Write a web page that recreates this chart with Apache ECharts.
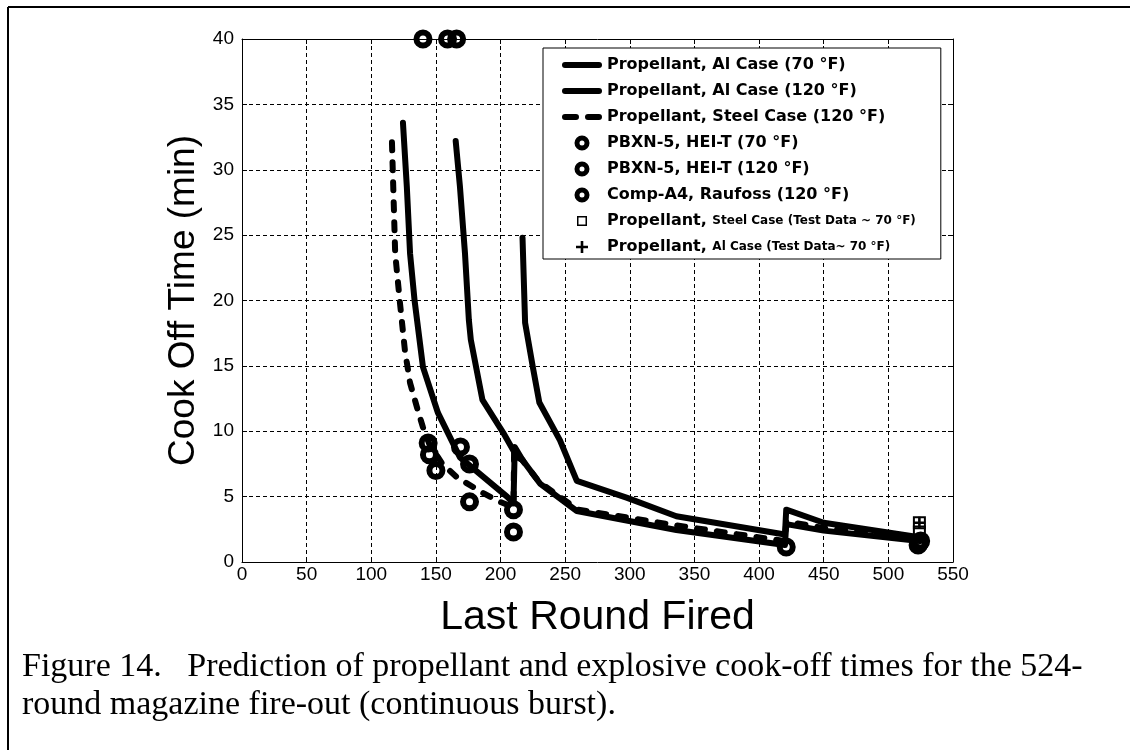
<!DOCTYPE html>
<html>
<head>
<meta charset="utf-8">
<title>Figure 14</title>
<script src="https://cdn.jsdelivr.net/npm/echarts@6/dist/echarts.min.js"></script>
<style>
  html, body { margin: 0; padding: 0; background: #fff; }
  #chart { width: 1130px; height: 750px; }
</style>
</head>
<body>
<div id="chart"></div>
<script>
  // 坐标轴刻度
  var xTicks = [0, 50, 100, 150, 200, 250, 300, 350, 400, 450, 500, 550];
  var yTicks = [0, 5, 10, 15, 20, 25, 30, 35, 40];

  // 曲线
  var alCase70 = [[217, 24.8], [219, 18.3], [225, 14.9], [230, 12.2], [246, 9.3], [259, 6.2],
    [298, 4.9], [336, 3.5], [420, 2.1], [421, 4.0], [450, 3.0], [524, 1.9]];
  var alCase70b = [[165.3, 32.2], [168.6, 28.7], [172.5, 23.6], [175.5, 18.5], [177, 17.0],
    [186, 12.4], [202, 9.9], [213, 8.0], [217, 7.8]];
  var alCase120 = [[124.5, 33.6], [127.5, 28.7], [130, 23.6], [133.5, 20], [140, 14.9],
    [151.6, 11.4], [168.6, 8.0], [205, 5.0], [210, 4.5], [211, 8.8], [217, 7.8], [230.5, 6.0],
    [259, 3.9], [336, 2.45], [420, 1.3], [421, 2.9], [450, 2.4], [524, 1.6]];
  var steelCase120 = [[116, 32.1], [117, 28.7], [118.5, 23.6], [122, 20], [126, 16.2], [130, 13.7],
    [136, 11.6], [140, 10.3], [145, 9.0], [155, 7.5], [166, 6.5], [186, 5.3], [199.5, 4.6],
    [210, 4.2], [210.5, 8.6], [230, 6.1], [260, 4.0], [336, 2.8], [420, 1.6], [421, 3.1],
    [450, 2.6], [524, 1.8]];

  // 散点
  var pbxn70 = [[140, 40], [159, 40], [166, 40], [176, 4.6], [210, 2.3], [421, 1.15]];
  var pbxn120 = [[144, 9.1], [145, 8.2], [150, 7.0], [210, 4.0], [523, 1.3]];
  var compA4 = [[169, 8.8], [176, 7.5], [525, 1.6], [524, 1.45]];
  var testSteel = [[524, 3.0], [524, 2.3]];
  var testAl = [[524, 3.0]];

  var n70 = 'Propellant, Al Case (70 °F)';
  var n120 = 'Propellant, Al Case (120 °F)';
  var nSteel = 'Propellant, Steel Case (120 °F)';
  var nP70 = 'PBXN-5, HEI-T (70 °F)';
  var nP120 = 'PBXN-5, HEI-T (120 °F)';
  var nComp = 'Comp-A4, Raufoss (120 °F)';
  var nTestSteel = 'Propellant, Steel Case (Test Data ~ 70 °F)';
  var nTestAl = 'Propellant, Al Case (Test Data~ 70 °F)';

  var ringPath = 'path://M0,-10 A10,10 0 1,1 0,10 A10,10 0 1,1 0,-10 Z M0,-3.7 A3.7,3.7 0 1,0 0,3.7 A3.7,3.7 0 1,0 0,-3.7 Z';
  var ringIcon = 'path://M-8,-8 M8,8 M0,-7.5 A7.5,7.5 0 1,1 0,7.5 A7.5,7.5 0 1,1 0,-7.5 Z M0,-2.5 A2.5,2.5 0 1,0 0,2.5 A2.5,2.5 0 1,0 0,-2.5 Z';
  var squareIcon = 'path://M0,0 M16,16 M3,3 H13 V13 H3 Z M4.5,4.5 V11.5 H11.5 V4.5 Z';
  var plusPath = 'path://M6.7,2 H9.3 V6.7 H14 V9.3 H9.3 V14 H6.7 V9.3 H2 V6.7 H6.7 Z';
  var plusIcon = 'path://M0,0 M16,16 M6.7,2 H9.3 V6.7 H14 V9.3 H9.3 V14 H6.7 V9.3 H2 V6.7 H6.7 Z';
  var solidIcon = 'path://M0,0 M40,16 M3,5 H37 A3,3 0 0,1 37,11 H3 A3,3 0 0,1 3,5 Z';
  var dashIcon = 'path://M0,0 M40,16 M3,5 H14 A3,3 0 0,1 14,11 H3 A3,3 0 0,1 3,5 Z M26,5 H37 A3,3 0 0,1 37,11 H26 A3,3 0 0,1 26,5 Z';

  var axisFont = 'Liberation Sans';
  var black = { color: '#000', borderWidth: 0, opacity: 1 };

  function lineSeries(name, data, dashed) {
    return {
      name: name, type: 'line', data: data, symbol: 'none', clip: false,
      lineStyle: { color: '#000', width: 6, type: dashed ? [8, 12] : 'solid', cap: 'round', join: 'round' },
      itemStyle: { color: '#000' },
      emphasis: { disabled: true }, z: 3
    };
  }
  function markSeries(name, data, symbol, size, style) {
    return {
      name: name, type: 'scatter', data: data, symbol: symbol, symbolSize: size, clip: false,
      itemStyle: style, emphasis: { disabled: true }, z: 4
    };
  }

  var chart = echarts.init(document.getElementById('chart'));
  var option = {
    animation: false,
    backgroundColor: '#fff',
    grid: { left: 242, right: 177, top: 39, bottom: 188 },
    xAxis: [{
      type: 'value', position: 'bottom',
      min: xTicks[0], max: xTicks[xTicks.length - 1], interval: xTicks[1] - xTicks[0],
      axisLine: { show: true, lineStyle: { color: '#000', width: 1 } },
      axisTick: { show: true, inside: true, length: 5, lineStyle: { color: '#000' } },
      axisLabel: { color: '#000', fontSize: 19, fontFamily: axisFont, margin: 3 },
      splitLine: { show: true, lineStyle: { color: '#000', width: 1, type: [4, 3] } },
      name: 'Last Round Fired', nameLocation: 'middle', nameGap: 35,
      nameTextStyle: { color: '#000', fontSize: 41, fontFamily: axisFont }
    }, {
      type: 'value', position: 'top',
      min: xTicks[0], max: xTicks[xTicks.length - 1], interval: xTicks[1] - xTicks[0],
      axisLine: { show: true, onZero: false, lineStyle: { color: '#000', width: 1 } },
      axisTick: { show: true, inside: true, length: 5, lineStyle: { color: '#000' } },
      axisLabel: { show: false }, splitLine: { show: false }
    }],
    yAxis: [{
      type: 'value', position: 'left',
      min: yTicks[0], max: yTicks[yTicks.length - 1], interval: yTicks[1] - yTicks[0],
      axisLine: { show: true, lineStyle: { color: '#000', width: 1 } },
      axisTick: { show: true, inside: true, length: 5, lineStyle: { color: '#000' } },
      axisLabel: { color: '#000', fontSize: 19, fontFamily: axisFont, margin: 8 },
      splitLine: { show: true, lineStyle: { color: '#000', width: 1, type: [4, 3] } },
      name: 'Cook Off Time (min)', nameLocation: 'middle', nameGap: 28,
      nameTextStyle: { color: '#000', fontSize: 37, fontFamily: axisFont }
    }, {
      type: 'value', position: 'right',
      min: yTicks[0], max: yTicks[yTicks.length - 1], interval: yTicks[1] - yTicks[0],
      axisLine: { show: true, onZero: false, lineStyle: { color: '#000', width: 1 } },
      axisTick: { show: true, inside: true, length: 5, lineStyle: { color: '#000' } },
      axisLabel: { show: false }, splitLine: { show: false }
    }],
    legend: {
      left: 543, top: 48, orient: 'vertical',
      backgroundColor: '#fff', borderColor: '#000', borderWidth: 1, borderRadius: 0,
      padding: [9, 25, 4, 19],
      itemWidth: 40, itemHeight: 16, itemGap: 10,
      selectedMode: false,
      textStyle: {
        color: '#000', fontFamily: 'DejaVu Sans', fontWeight: 'bold', fontSize: 16, lineHeight: 16,
        rich: {
          big: { color: '#000', fontFamily: 'DejaVu Sans', fontWeight: 'bold', fontSize: 16, lineHeight: 16 },
          small: { color: '#000', fontFamily: 'DejaVu Sans', fontWeight: 'bold', fontSize: 12, lineHeight: 16 }
        }
      },
      formatter: function (name) {
        if (name.indexOf('Test') > -1) {
          var cut = name.indexOf(',') + 1;
          return '{big|' + name.slice(0, cut) + ' }{small|' + name.slice(cut + 1) + '}';
        }
        return name;
      },
      data: [
        { name: n70, icon: solidIcon, itemStyle: black },
        { name: n120, icon: solidIcon, itemStyle: black },
        { name: nSteel, icon: dashIcon, itemStyle: black },
        { name: nP70, icon: ringIcon, itemStyle: black },
        { name: nP120, icon: ringIcon, itemStyle: black },
        { name: nComp, icon: ringIcon, itemStyle: black },
        { name: nTestSteel, icon: squareIcon, itemStyle: black },
        { name: nTestAl, icon: plusIcon, itemStyle: black }
      ]
    },
    series: [
      lineSeries(n70, alCase70, false),
      lineSeries(n70, alCase70b, false),
      lineSeries(n120, alCase120, false),
      lineSeries(nSteel, steelCase120, true),
      markSeries(nP70, pbxn70, ringPath, 19, { color: '#000', opacity: 1 }),
      markSeries(nP120, pbxn120, ringPath, 19, { color: '#000', opacity: 1 }),
      markSeries(nComp, compA4, ringPath, 19, { color: '#000', opacity: 1 }),
      markSeries(nTestSteel, testSteel, 'rect', 11, { color: 'rgba(0,0,0,0)', borderColor: '#000', borderWidth: 2, opacity: 1 }),
      markSeries(nTestAl, testAl, plusPath, 12, { color: '#000', opacity: 1 })
    ],
    graphic: [
      { type: 'line', shape: { x1: 8, y1: 7, x2: 1130, y2: 7 }, style: { stroke: '#000', lineWidth: 2 } },
      { type: 'line', shape: { x1: 8, y1: 7, x2: 8, y2: 750 }, style: { stroke: '#000', lineWidth: 2 } },
      { type: 'text', left: 22, top: 650,
        style: { text: 'Figure 14.   Prediction of propellant and explosive cook-off times for the 524-',
          font: '34px "Liberation Serif"', fill: '#000' } },
      { type: 'text', left: 22, top: 688,
        style: { text: 'round magazine fire-out (continuous burst).',
          font: '34px "Liberation Serif"', fill: '#000' } }
    ]
  };
  chart.setOption(option);
</script>
</body>
</html>
